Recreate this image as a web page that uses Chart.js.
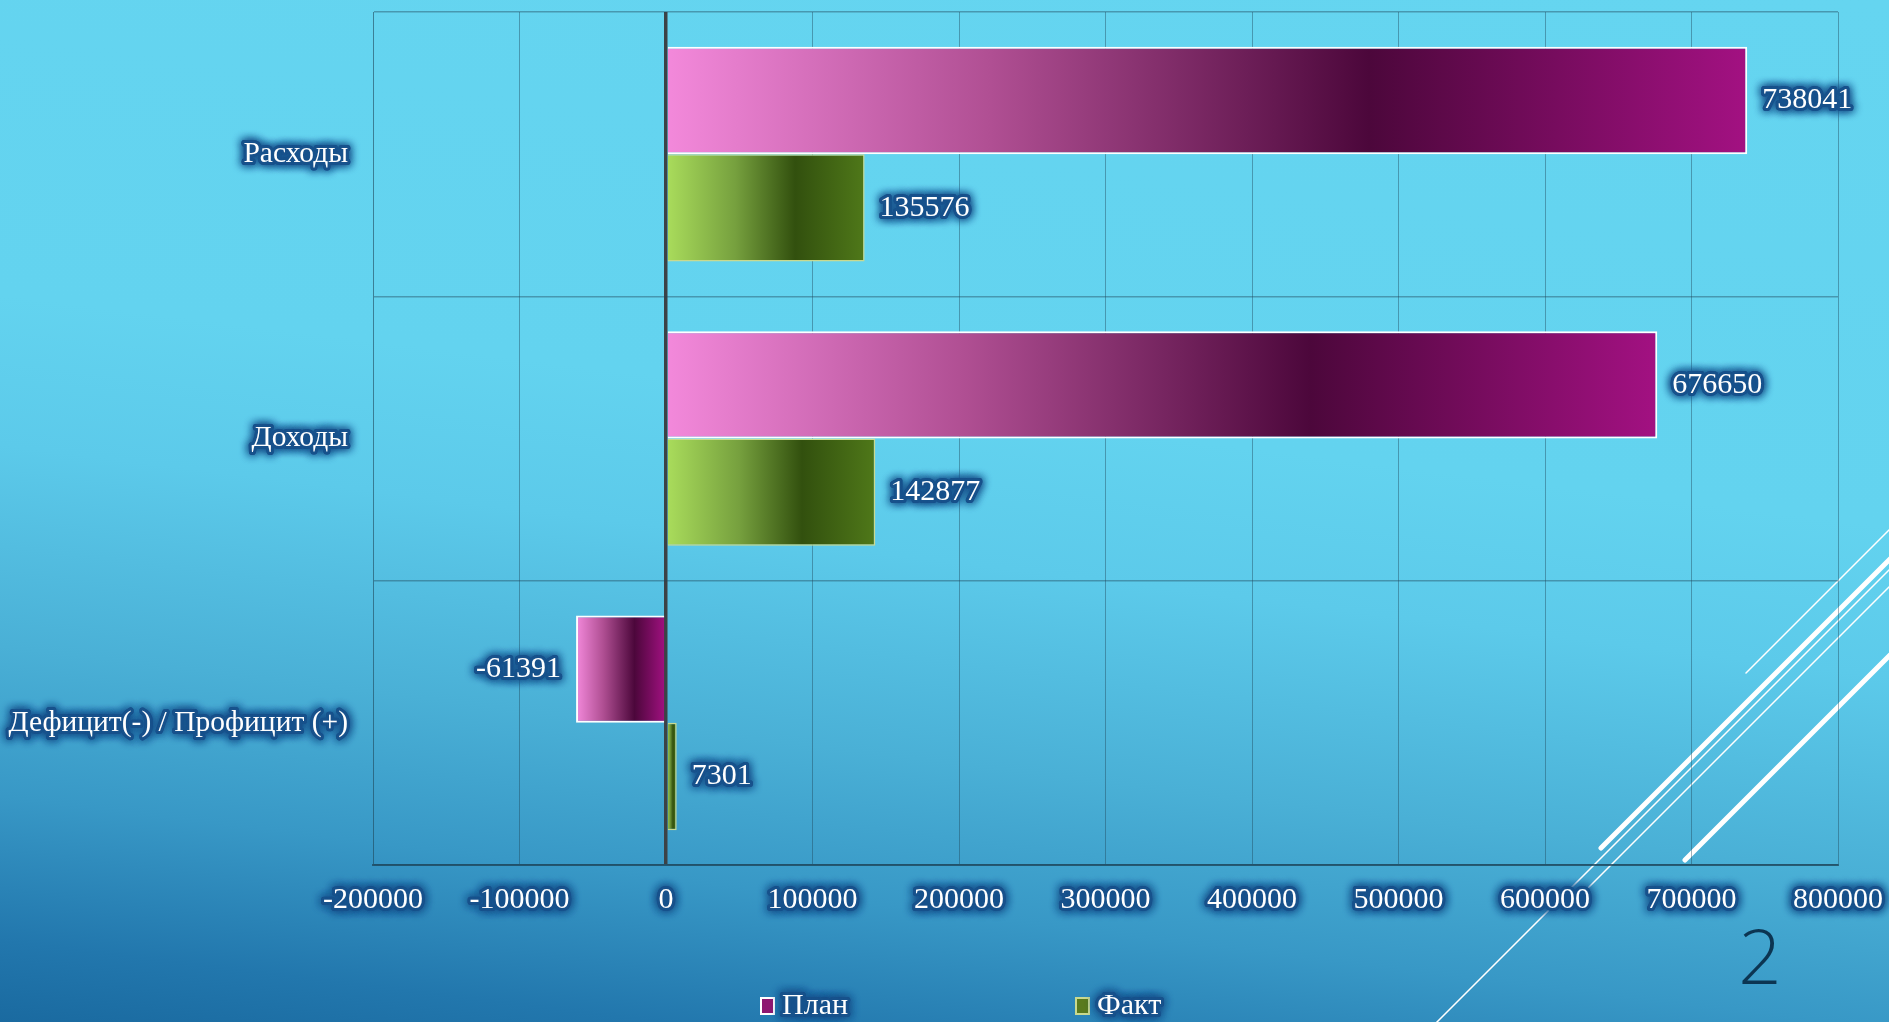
<!DOCTYPE html>
<html>
<head>
<meta charset="utf-8">
<script src="https://cdn.jsdelivr.net/npm/chart.js@4/dist/chart.umd.min.js"></script>
<style>
  html, body { margin: 0; padding: 0; overflow: hidden; }
  body {
    width: 1889px; height: 1022px;
    background: linear-gradient(7deg, #1a6aa0 0%, #2277ad 6.5%, #3898c6 18%, #4ab0d6 30%, #5ccaea 46%, #63d3ef 58%, #65d5f0 100%);
  }
  canvas { display: block; }
</style>
</head>
<body>
<canvas id="chart" width="1889" height="1022"></canvas>
<script>
// data
const categories = ['Расходы', 'Доходы', 'Дефицит(-) / Профицит (+)'];
const seriesNames = ['План', 'Факт'];
const planValues = [738041, 676650, -61391];
const factValues = [135576, 142877, 7301];
const xTicks = [-200000, -100000, 0, 100000, 200000, 300000, 400000, 500000, 600000, 700000, 800000];

const FONT = '"Liberation Serif", "Times New Roman", serif';
const FSIZE = 30;
const GLOW = 'rgba(24,82,140,1)';

// gradient stops along each bar (left -> right)
const planStops = [[0, '#f389db'], [0.3, '#b04f93'], [0.65, '#4c073b'], [1, '#a31182']];
const factStops = [[0, '#aadd5c'], [0.35, '#76a03e'], [0.65, '#32500e'], [1, '#4f7819']];

function barGradient(stops) {
  return (context) => {
    const chart = context.chart;
    const xScale = chart.scales.x;
    const v = context.raw;
    if (!xScale || context.type !== 'data' || v == null) return stops[2][1];
    const a = xScale.getPixelForValue(0);
    const b = xScale.getPixelForValue(v);
    const x0 = Math.min(a, b), x1 = Math.max(a, b);
    if (!isFinite(x0) || !isFinite(x1) || x1 - x0 < 1) return stops[2][1];
    const g = chart.ctx.createLinearGradient(x0, 0, x1, 0);
    stops.forEach(([o, c]) => g.addColorStop(o, c));
    return g;
  };
}

// white text with the dark blue halo
function glowText(ctx, text, x, y) {
  ctx.save();
  ctx.fillStyle = GLOW;
  ctx.strokeStyle = GLOW;
  ctx.lineWidth = 6;
  ctx.lineJoin = 'round';
  ctx.shadowColor = GLOW;
  ctx.shadowBlur = 10;
  for (let k = 0; k < 2; k++) {
    ctx.strokeText(text, x, y);
    ctx.fillText(text, x, y);
  }
  ctx.restore();
  ctx.fillStyle = '#ffffff';
  ctx.fillText(text, x, y);
}

// slide decoration behind everything
const backdrop = {
  id: 'backdrop',
  beforeDraw(chart) {
    const ctx = chart.ctx;
    ctx.save();
    ctx.strokeStyle = '#ffffff';
    ctx.lineCap = 'round';
    const lines = [
      [1746, 673, 2100, 319, 1.5],
      [1601, 848, 2000, 449, 5],
      [1380, 1079, 2000, 459, 1.5],
      [1583, 893, 2000, 476, 1.5],
      [1685, 860, 2000, 545, 5]
    ];
    lines.forEach(([x0, y0, x1, y1, w]) => {
      ctx.lineWidth = w;
      ctx.beginPath();
      ctx.moveTo(x0, y0);
      ctx.lineTo(x1, y1);
      ctx.stroke();
    });
    ctx.restore();

    // halo under axis labels: dark pass with shadow, then the normal white pass
    Object.values(chart.scales).forEach(scale => {
      if (scale._glowPatched) return;
      const orig = scale.drawLabels;
      scale.drawLabels = function(area) {
        const c = this.ctx;
        const items = this.getLabelItems(area);
        const saved = items.map(it => [it.options.color, it.options.strokeColor, it.options.strokeWidth]);
        items.forEach(it => {
          it.options.color = GLOW;
          it.options.strokeColor = GLOW;
          it.options.strokeWidth = 6;
        });
        c.save();
        c.lineJoin = 'round';
        c.shadowColor = GLOW;
        c.shadowBlur = 10;
        orig.call(this, area);
        orig.call(this, area);
        c.restore();
        items.forEach((it, k) => {
          it.options.color = saved[k][0];
          it.options.strokeColor = saved[k][1];
          it.options.strokeWidth = saved[k][2];
        });
        orig.call(this, area);
      };
      scale._glowPatched = true;
    });
  }
};

const valueLabels = {
  id: 'valueLabels',
  afterDatasetsDraw(chart) {
    const ctx = chart.ctx;
    ctx.save();
    ctx.font = FSIZE + 'px ' + FONT;
    ctx.textBaseline = 'middle';
    chart.data.datasets.forEach((ds, i) => {
      chart.getDatasetMeta(i).data.forEach((bar, j) => {
        const v = ds.data[j];
        const neg = v < 0;
        ctx.textAlign = neg ? 'right' : 'left';
        glowText(ctx, String(v), bar.x + (neg ? -15 : 15), bar.y);
      });
    });
    ctx.restore();
  }
};

const legendAndPage = {
  id: 'legendAndPage',
  afterDraw(chart) {
    const ctx = chart.ctx;
    ctx.save();
    const boxColors = [['#8e1870', '#ffffff'], ['#5a7a1e', '#c9d98f']];
    ctx.font = FSIZE + 'px ' + FONT;
    ctx.textBaseline = 'middle';
    ctx.textAlign = 'left';
    chart.data.datasets.forEach((ds, i) => {
      const x = 761 + i * 315, y = 1006;
      ctx.fillStyle = boxColors[i][0];
      ctx.strokeStyle = boxColors[i][1];
      ctx.lineWidth = 2;
      ctx.fillRect(x, y - 8, 13, 16);
      ctx.strokeRect(x, y - 8, 13, 16);
      glowText(ctx, ds.label, x + 21, y);
    });
    ctx.font = '300 76px "Open Sans", sans-serif';
    ctx.fillStyle = '#0c3552';
    ctx.textAlign = 'center';
    ctx.textBaseline = 'alphabetic';
    ctx.fillText('2', 1760, 984);
    ctx.restore();
  }
};

const gridColor = 'rgba(30,68,88,0.42)';

new Chart(document.getElementById('chart'), {
  type: 'bar',
  data: {
    labels: categories,
    datasets: [
      { label: seriesNames[0], data: planValues, backgroundColor: barGradient(planStops),
        borderColor: '#ffffff', borderWidth: 2 },
      { label: seriesNames[1], data: factValues, backgroundColor: barGradient(factStops),
        borderColor: '#c9d98f', borderWidth: 1.5 }
    ]
  },
  options: {
    indexAxis: 'y',
    responsive: false,
    animation: false,
    devicePixelRatio: 1,
    layout: { padding: { top: 12, right: 51, left: 0, bottom: 0 } },
    datasets: { bar: { categoryPercentage: 0.755, barPercentage: 1 } },
    plugins: {
      legend: { display: false },
      tooltip: { enabled: false }
    },
    scales: {
      x: {
        type: 'linear',
        min: xTicks[0],
        max: xTicks[xTicks.length - 1],
        afterBuildTicks: (scale) => { scale.ticks = xTicks.map(v => ({ value: v })); },
        afterFit: (scale) => {
          scale.height = 157;
          scale.paddingLeft = 0;
          scale.paddingRight = 0;
        },
        grid: {
          drawTicks: false,
          color: (c) => (c.tick && c.tick.value === 0) ? '#3c4246' : gridColor,
          lineWidth: (c) => (c.tick && c.tick.value === 0) ? 3.5 : 1
        },
        border: { display: true, color: 'rgba(28,66,86,0.7)', width: 2 },
        ticks: {
          color: '#ffffff',
          font: { family: FONT, size: FSIZE },
          padding: 17,
          maxRotation: 0,
          autoSkip: false,
          callback: (v) => String(v)
        }
      },
      y: {
        afterFit: (scale) => {
          scale.width = 373;
          scale.paddingTop = 0;
          scale.paddingBottom = 0;
        },
        grid: { drawTicks: false, color: gridColor, lineWidth: 1.5 },
        border: { display: true, color: 'rgba(30,68,88,0.3)', width: 1 },
        ticks: {
          color: '#ffffff',
          font: { family: FONT, size: 29.5 },
          padding: 25
        }
      }
    }
  },
  plugins: [backdrop, valueLabels, legendAndPage]
});
</script>
</body>
</html>
